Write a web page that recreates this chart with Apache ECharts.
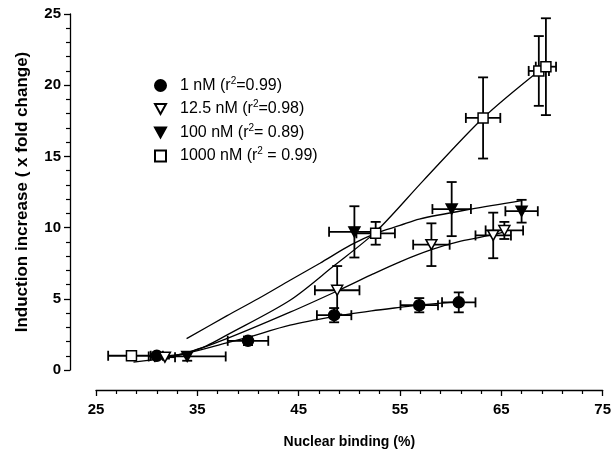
<!DOCTYPE html>
<html>
<head>
<meta charset="utf-8">
<script src="https://cdn.jsdelivr.net/npm/echarts@6/dist/echarts.min.js"></script>
<style>
  html, body { margin: 0; padding: 0; background: #fff; }
  #chart { width: 614px; height: 457px; }
</style>
</head>
<body>
<div id="chart"></div>
<script>
// measured points: x, y, x error, y error
var names = ['1 nM', '12.5 nM', '100 nM', '1000 nM'];
var r2Labels = ['=0.99', '=0.98', '= 0.89', ' = 0.99'];

var x1 = [31.0, 40.0, 48.5, 56.9, 60.8];
var y1 = [1.0, 2.05, 3.85, 4.55, 4.75];
var ex1 = [0.6, 2.0, 1.7, 1.85, 1.65];
var ey1 = [0.1, 0.3, 0.5, 0.5, 0.7];

var x2 = [31.8, 48.8, 58.1, 64.2, 65.3];
var y2 = [0.9, 5.6, 8.8, 9.45, 9.8];
var ex2 = [1.0, 2.2, 1.8, 1.75, 1.85];
var ey2 = [0.1, 1.7, 1.5, 1.6, 0.6];

var x3 = [34.0, 50.5, 60.1, 67.0];
var y3 = [0.95, 9.7, 11.3, 11.15];
var ex3 = [3.8, 2.5, 1.9, 1.6];
var ey3 = [0.3, 1.8, 1.9, 0.8];

var x4 = [28.5, 52.6, 63.2, 68.7, 69.4];
var y4 = [1.0, 9.6, 17.7, 21.0, 21.3];
var ex4 = [2.3, 1.9, 1.7, 1.0, 1.0];
var ey4 = [0.1, 0.8, 2.85, 2.45, 3.4];

// fitted curves
var fitX1 = [31.0, 33.8, 37.9, 40.0, 44.15, 48.45, 52.2, 55.0, 56.8, 60.8];
var fitY1 = [0.95, 1.15, 1.9, 2.3, 3.15, 3.75, 4.15, 4.4, 4.55, 4.8];
var fitX2 = [31.8, 33.8, 37.9, 44.15, 48.8, 52.2, 55.0, 58.1, 61.0, 64.2, 65.3];
var fitY2 = [0.85, 1.15, 2.2, 4.06, 5.55, 6.7, 7.6, 8.45, 9.05, 9.5, 9.7];
var fitX3 = [33.94, 37.9, 40.99, 44.15, 47.1, 50.2, 52.6, 55.0, 56.9, 62.0, 67.0];
var fitY3 = [2.2, 3.8, 5.0, 6.3, 7.5, 8.8, 9.6, 10.15, 10.6, 11.3, 11.9];
var fitX4 = [28.7, 31.8, 33.84, 35.9, 37.9, 44.15, 48.45, 52.6, 57.3, 63.2, 68.7];
var fitY4 = [0.55, 0.85, 1.2, 1.7, 2.45, 4.9, 7.3, 9.7, 13.3, 17.7, 21.0];

var font = 'Arial, "Liberation Sans", sans-serif';
var downTri = 'path://M0,0 L10,0 L5,9 Z';

var symbols = ['circle', downTri, downTri, 'rect'];
var fills = ['#000', '#fff', '#000', '#fff'];
var sizes = [11, [11, 10], [11, 10], 10];

var xs = [x1, x2, x3, x4];
var ys = [y1, y2, y3, y4];
var exs = [ex1, ex2, ex3, ex4];
var eys = [ey1, ey2, ey3, ey4];
var fitXs = [fitX1, fitX2, fitX3, fitX4];
var fitYs = [fitY1, fitY2, fitY3, fitY4];

function zip(a, b) {
  var out = [];
  for (var i = 0; i < a.length; i++) out.push([a[i], b[i]]);
  return out;
}

function errorBars(params, api) {
  var x = api.value(0), y = api.value(1), ex = api.value(2), ey = api.value(3);
  var l = api.coord([x - ex, y]), r = api.coord([x + ex, y]);
  var t = api.coord([x, y + ey]), b = api.coord([x, y - ey]);
  var cap = 5;
  var style = { stroke: '#000', lineWidth: 1.8 };
  return {
    type: 'group',
    children: [
      { type: 'line', shape: { x1: l[0], y1: l[1], x2: r[0], y2: r[1] }, style: style },
      { type: 'line', shape: { x1: l[0], y1: l[1] - cap, x2: l[0], y2: l[1] + cap }, style: style },
      { type: 'line', shape: { x1: r[0], y1: r[1] - cap, x2: r[0], y2: r[1] + cap }, style: style },
      { type: 'line', shape: { x1: t[0], y1: t[1], x2: b[0], y2: b[1] }, style: style },
      { type: 'line', shape: { x1: t[0] - cap, y1: t[1], x2: t[0] + cap, y2: t[1] }, style: style },
      { type: 'line', shape: { x1: b[0] - cap, y1: b[1], x2: b[0] + cap, y2: b[1] }, style: style }
    ]
  };
}

var series = [];
for (var i = 0; i < 4; i++) {
  series.push({
    name: 'fit ' + names[i],
    type: 'line',
    data: zip(fitXs[i], fitYs[i]),
    smooth: 0.3,
    showSymbol: false,
    silent: true,
    lineStyle: { color: '#000', width: 1.3 },
    z: 2
  });
  var errData = [];
  for (var j = 0; j < xs[i].length; j++) {
    errData.push([xs[i][j], ys[i][j], exs[i][j], eys[i][j]]);
  }
  series.push({
    name: 'err ' + names[i],
    type: 'custom',
    renderItem: errorBars,
    data: errData,
    encode: { x: 0, y: 1 },
    silent: true,
    z: 3
  });
  series.push({
    name: names[i],
    type: 'scatter',
    data: zip(xs[i], ys[i]),
    symbol: symbols[i],
    symbolSize: sizes[i],
    itemStyle: { color: fills[i], borderColor: '#000', borderWidth: 1.5, opacity: 1 },
    z: 4
  });
}

var chart = echarts.init(document.getElementById('chart'), null, { renderer: 'canvas' });
chart.setOption({
  backgroundColor: '#fff',
  animation: false,
  grid: { left: 96, right: 11, top: 14, bottom: 87 },
  legend: {
    orient: 'vertical',
    left: 149,
    top: 71,
    itemWidth: 11,
    itemHeight: 11,
    itemGap: 6,
    data: names,
    formatter: function (name) {
      var k = names.indexOf(name);
      return name + ' (r{s|2}' + r2Labels[k] + ')';
    },
    textStyle: {
      fontFamily: font,
      fontSize: 16,
      color: '#000',
      padding: [0, 0, 0, 9],
      rich: { s: { fontSize: 10, fontFamily: font, color: '#000', verticalAlign: 'bottom', padding: [0, 0, 9, 0] } }
    }
  },
  xAxis: {
    type: 'value',
    min: 25,
    max: 75,
    interval: 10,
    offset: 20,
    name: 'Nuclear binding (%)',
    nameLocation: 'middle',
    nameGap: 45,
    nameTextStyle: { fontFamily: font, fontSize: 14, fontWeight: 'bold', color: '#000' },
    splitLine: { show: false },
    axisLine: { onZero: false, lineStyle: { color: '#000', width: 1.3 } },
    axisTick: { inside: false, length: 6, lineStyle: { color: '#000', width: 1.3 } },
    minorTick: { show: true, splitNumber: 5, length: 4, lineStyle: { color: '#000', width: 1.2 } },
    axisLabel: { fontFamily: font, fontSize: 15, fontWeight: 'bold', color: '#000', margin: 12 }
  },
  yAxis: {
    type: 'value',
    min: 0,
    max: 25,
    interval: 5,
    offset: 26,
    name: 'Induction increase ( x fold change)',
    nameLocation: 'middle',
    nameGap: 39,
    nameTextStyle: { fontFamily: font, fontSize: 17, fontWeight: 'bold', color: '#000' },
    splitLine: { show: false },
    axisLine: { show: true, onZero: false, lineStyle: { color: '#000', width: 1.3 } },
    axisTick: { show: true, inside: false, length: 6, lineStyle: { color: '#000', width: 1.3 } },
    minorTick: { show: true, splitNumber: 5, length: 4, lineStyle: { color: '#000', width: 1.2 } },
    axisLabel: { fontFamily: font, fontSize: 15, fontWeight: 'bold', color: '#000', margin: 9 }
  },
  series: series
});
</script>
</body>
</html>
